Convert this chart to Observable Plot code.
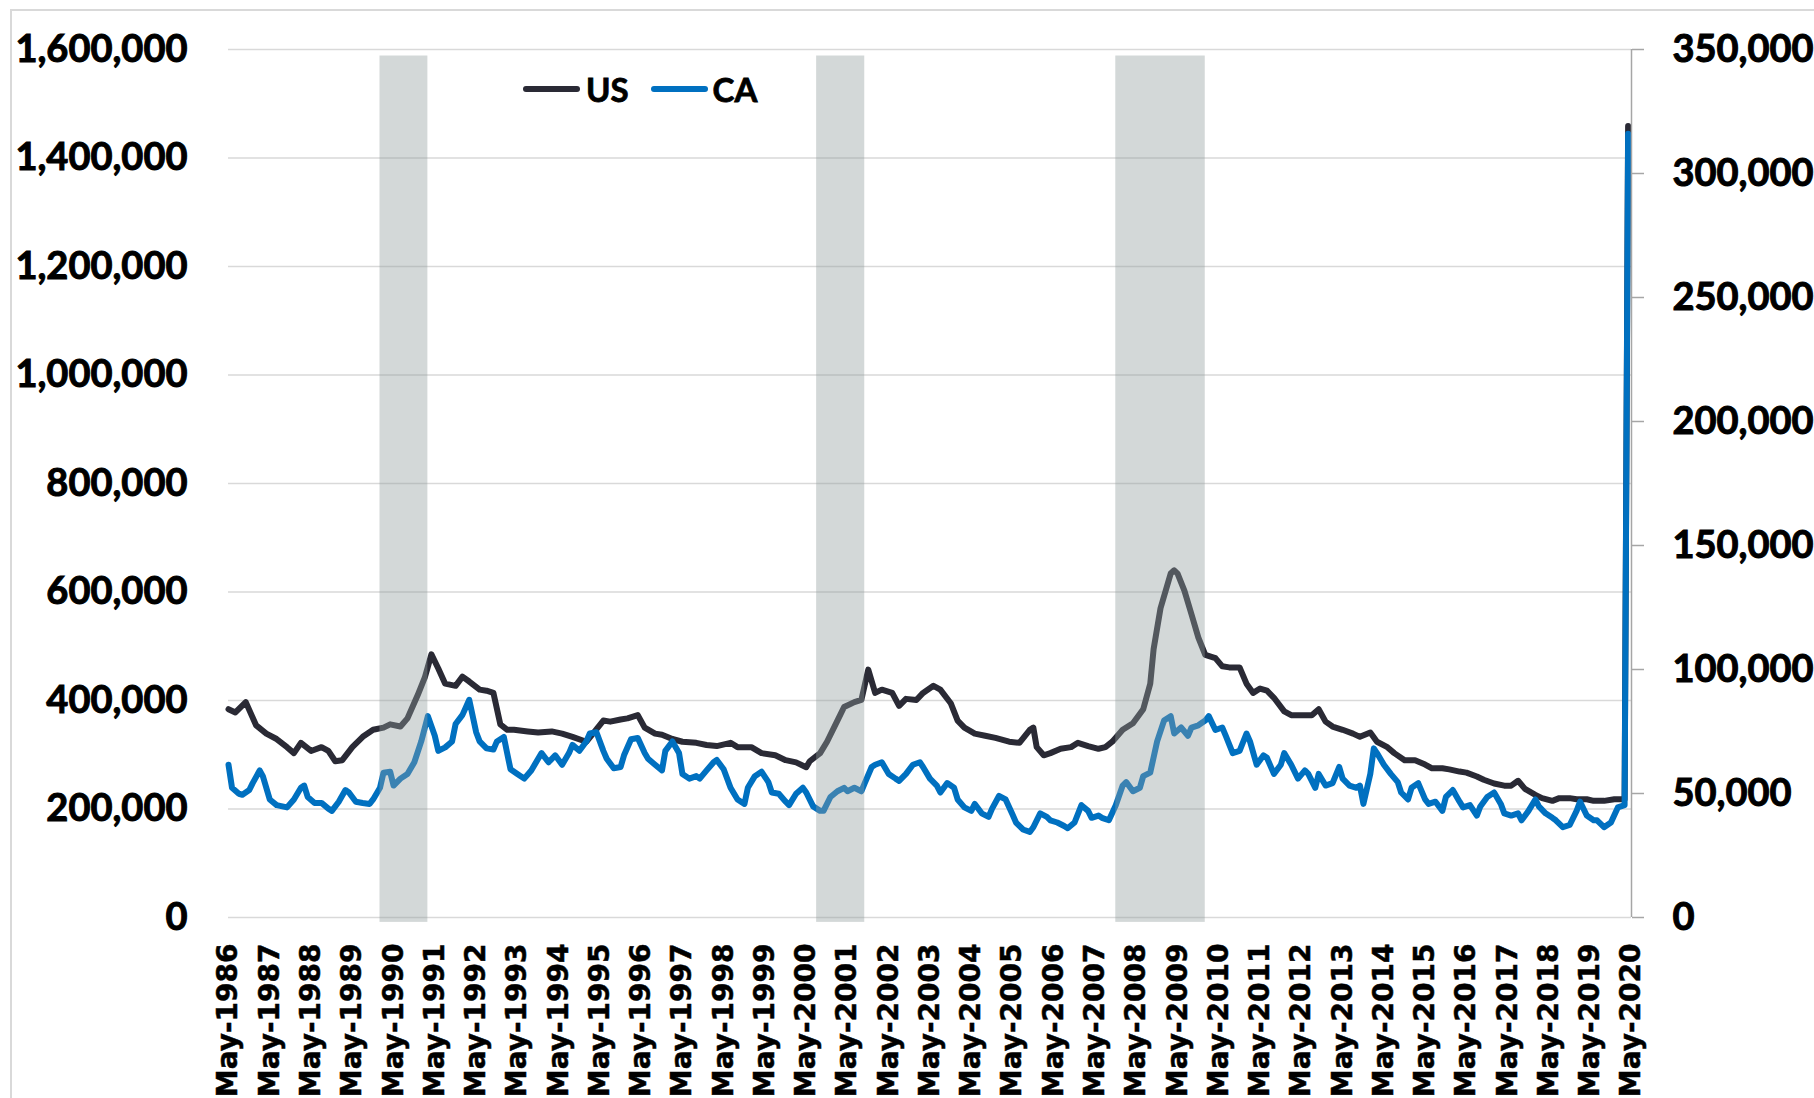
<!DOCTYPE html>
<html><head><meta charset="utf-8">
<script src="https://cdn.jsdelivr.net/npm/d3@7"></script>
<script src="https://cdn.jsdelivr.net/npm/@observablehq/plot@0.6"></script>
<style>
body{margin:0;background:#fff;}
#wrap{position:relative;width:1814px;height:1098px;overflow:hidden;}
#frame{position:absolute;left:10px;top:9px;right:0;bottom:0;border-top:2px solid #d9d9d9;border-left:2px solid #d9d9d9;}
#chart{position:absolute;left:0;top:0;}
#chart svg g[aria-label="y-axis tick label"] text{stroke:#000;stroke-width:1px;paint-order:stroke;}
#chart svg g[aria-label="x-axis tick label"] text{stroke:#000;stroke-width:0.5px;paint-order:stroke;}
#legend{position:absolute;left:523px;top:70px;height:38px;display:flex;align-items:center;font:bold 33px Lato;color:#000;-webkit-text-stroke:0.8px #000;}
#legend .sw{display:inline-block;width:57px;height:6px;border-radius:3px;}
</style></head><body>
<div id="wrap"><div id="frame"></div><div id="chart"></div>
<div id="legend"><span class="sw" style="background:#2a2a35;margin-right:6px"></span><span>US</span><span class="sw" style="background:#0070c0;margin-left:22px;margin-right:5px"></span><span>CA</span></div>
</div>
<script>
const usDates = ["1986-05","1986-07","1986-10","1987-01","1987-04","1987-07","1987-10","1987-12","1988-02","1988-05","1988-08","1988-10","1988-12","1989-02","1989-05","1989-08","1989-11","1990-02","1990-04","1990-07","1990-09","1990-12","1991-02","1991-04","1991-06","1991-08","1991-11","1992-01","1992-03","1992-06","1992-08","1992-10","1992-12","1993-02","1993-04","1993-08","1993-11","1994-03","1994-06","1994-09","1995-01","1995-03","1995-06","1995-08","1995-11","1996-01","1996-04","1996-06","1996-09","1996-11","1997-02","1997-05","1997-09","1997-12","1998-03","1998-07","1998-09","1999-01","1999-04","1999-08","1999-11","2000-02","2000-05","2000-06","2000-09","2000-11","2001-02","2001-04","2001-07","2001-09","2001-11","2002-01","2002-03","2002-06","2002-08","2002-10","2003-01","2003-03","2003-06","2003-08","2003-11","2004-01","2004-03","2004-06","2004-09","2004-12","2005-04","2005-07","2005-10","2005-11","2005-12","2006-02","2006-04","2006-07","2006-10","2006-12","2007-03","2007-06","2007-08","2007-10","2008-01","2008-04","2008-07","2008-09","2008-10","2008-12","2009-03","2009-04","2009-05","2009-07","2009-09","2009-11","2010-01","2010-04","2010-06","2010-08","2010-11","2011-01","2011-03","2011-05","2011-07","2011-09","2011-12","2012-02","2012-05","2012-08","2012-10","2012-12","2013-02","2013-05","2013-08","2013-10","2014-01","2014-03","2014-06","2014-08","2014-11","2015-02","2015-05","2015-07","2015-10","2015-12","2016-03","2016-05","2016-08","2016-10","2017-01","2017-04","2017-06","2017-08","2017-10","2018-01","2018-03","2018-06","2018-08","2018-11","2019-01","2019-04","2019-06","2019-09","2019-12","2020-03","2020-04"];
const usValues = [384000,378000,397000,354000,339000,329000,314000,303000,322000,307000,314000,307000,288000,290000,314000,333000,346000,350000,356000,352000,367000,410000,442000,485000,459000,431000,427000,444000,435000,420000,418000,414000,356000,346000,346000,343000,341000,343000,339000,333000,324000,339000,363000,361000,365000,367000,373000,350000,339000,337000,329000,324000,322000,318000,316000,322000,314000,314000,303000,299000,290000,286000,277000,288000,303000,324000,363000,388000,397000,401000,457000,414000,420000,414000,390000,403000,401000,414000,427000,420000,395000,363000,350000,339000,335000,331000,324000,322000,346000,350000,314000,299000,303000,311000,314000,322000,316000,311000,314000,324000,346000,358000,384000,431000,495000,570000,634000,640000,634000,602000,559000,516000,484000,478000,463000,461000,461000,431000,414000,422000,418000,405000,380000,373000,373000,373000,384000,361000,352000,346000,339000,333000,341000,324000,314000,303000,290000,290000,282000,275000,275000,273000,269000,267000,260000,254000,247000,243000,243000,252000,237000,226000,220000,215000,220000,220000,218000,218000,215000,215000,218000,218000,1459000];

const caDates = ["1986-05","1986-06","1986-08","1986-09","1986-11","1986-12","1987-02","1987-03","1987-05","1987-07","1987-10","1987-12","1988-02","1988-03","1988-04","1988-06","1988-08","1988-10","1988-11","1989-01","1989-03","1989-04","1989-06","1989-08","1989-10","1989-11","1990-01","1990-02","1990-04","1990-05","1990-07","1990-09","1990-11","1991-01","1991-03","1991-05","1991-06","1991-08","1991-10","1991-11","1992-01","1992-03","1992-05","1992-06","1992-08","1992-10","1992-11","1993-01","1993-03","1993-05","1993-07","1993-09","1993-11","1993-12","1994-02","1994-04","1994-06","1994-08","1994-09","1994-11","1995-01","1995-02","1995-04","1995-06","1995-07","1995-09","1995-11","1995-12","1996-02","1996-04","1996-06","1996-07","1996-09","1996-11","1996-12","1997-02","1997-04","1997-05","1997-07","1997-09","1997-10","1997-12","1998-02","1998-03","1998-05","1998-07","1998-09","1998-11","1998-12","1999-02","1999-04","1999-06","1999-07","1999-09","1999-11","1999-12","2000-02","2000-04","2000-05","2000-07","2000-09","2000-10","2000-12","2001-02","2001-04","2001-05","2001-07","2001-09","2001-10","2001-12","2002-01","2002-03","2002-05","2002-07","2002-08","2002-10","2002-12","2003-02","2003-03","2003-05","2003-07","2003-08","2003-10","2003-12","2004-01","2004-03","2004-05","2004-06","2004-08","2004-10","2004-11","2005-01","2005-03","2005-05","2005-06","2005-08","2005-10","2005-11","2006-01","2006-03","2006-04","2006-06","2006-08","2006-09","2006-11","2007-01","2007-03","2007-04","2007-06","2007-07","2007-09","2007-11","2008-01","2008-02","2008-04","2008-06","2008-07","2008-09","2008-11","2009-01","2009-03","2009-04","2009-06","2009-08","2009-09","2009-11","2010-01","2010-02","2010-04","2010-06","2010-07","2010-09","2010-11","2011-01","2011-02","2011-04","2011-06","2011-07","2011-09","2011-11","2011-12","2012-02","2012-04","2012-06","2012-07","2012-09","2012-10","2012-12","2013-02","2013-04","2013-05","2013-07","2013-09","2013-10","2013-11","2014-01","2014-02","2014-03","2014-05","2014-07","2014-09","2014-10","2014-12","2015-01","2015-03","2015-05","2015-06","2015-08","2015-10","2015-11","2016-01","2016-03","2016-04","2016-06","2016-08","2016-09","2016-11","2017-01","2017-03","2017-04","2017-06","2017-08","2017-09","2017-11","2018-01","2018-02","2018-04","2018-06","2018-07","2018-09","2018-11","2019-01","2019-02","2019-04","2019-06","2019-07","2019-09","2019-11","2020-01","2020-03","2020-04"];
const caValues = [61600,52300,49900,49500,51400,54200,59300,57000,47600,45300,44400,47600,52300,53200,48600,46200,46200,43900,43000,46700,51400,50400,46700,46200,45800,47600,52300,58400,58800,53200,56000,57900,62600,71000,81200,73300,67200,68600,71000,78000,81700,87800,74700,71000,68200,67700,71000,72800,59800,57900,56000,59300,64000,66300,62600,65400,61600,66300,69600,67200,71000,74200,74700,67200,64000,60200,60700,65400,71900,72400,66300,64000,61600,59300,67200,71000,66300,57900,56000,57000,56000,59300,62600,63500,59800,52300,47600,45800,52300,57000,58800,54600,50400,49900,46700,45300,49900,52300,50400,44800,43000,43000,48600,50900,52300,50900,52300,50900,54200,60700,61600,62600,57900,56000,55100,57900,61600,62600,60700,56000,53200,50400,54200,52300,47600,44400,43000,45800,42000,40600,43900,49000,47600,41500,38300,35500,34500,36400,42000,40600,39200,38300,36900,36000,38300,45300,43000,40200,41100,40200,39200,45300,53200,54600,50900,52300,57000,58400,71000,79400,81200,74200,76600,73300,76600,77500,79400,81200,75600,76600,73300,66300,67200,74200,71000,61600,65400,64400,57900,61600,66300,61600,56000,59300,57900,52300,57900,53200,54200,60700,56000,53200,52300,53200,45800,57900,68200,66300,61600,57900,54600,50400,47600,52300,54200,47600,45800,46700,43000,48600,51400,46700,44400,45300,41100,44800,48600,50400,45800,42000,41100,42000,39200,43000,47600,44800,42000,40200,39200,36400,37300,43000,46700,41100,39200,39200,36400,38300,44400,45300,316000];

const recessionStart = ["1990-01","2000-08","2007-11"];
const recessionEnd = ["1991-03","2001-10","2010-01"];

const leftTicks = [0,200000,400000,600000,800000,1000000,1200000,1400000,1600000];
const rightTicks = [0,50000,100000,150000,200000,250000,300000,350000];
const tickYears = [1986,1987,1988,1989,1990,1991,1992,1993,1994,1995,1996,1997,1998,1999,2000,2001,2002,2003,2004,2005,2006,2007,2008,2009,2010,2011,2012,2013,2014,2015,2016,2017,2018,2019,2020];

const parse = d3.utcParse("%Y-%m");
const ratio = 1600000 / 350000;
const us = usDates.map((d, i) => ({date: parse(d), value: usValues[i]}));
const ca = caDates.map((d, i) => ({date: parse(d), value: caValues[i] * ratio}));
const rec = recessionStart.map((d, i) => ({start: parse(d), end: parse(recessionEnd[i])}));
const tickDates = tickYears.map(y => parse(y + "-05"));
const fmt = d3.format(",");

const chart = Plot.plot({
  width: 1814, height: 1098,
  marginLeft: 228, marginRight: 183, marginTop: 49, marginBottom: 181,
  x: {type: "utc", domain: [parse("1986-05"), parse("2020-05")]},
  y: {domain: [0, 1600000]},
  style: {fontFamily: "Lato", fontWeight: "bold", color: "#000", background: "transparent", overflow: "visible"},
  marks: [
    Plot.gridY(leftTicks, {stroke: "#d9d9d9", strokeOpacity: 1, strokeWidth: 1.6}),
    Plot.axisY(leftTicks, {anchor: "left", tickSize: 0, tickPadding: 41, tickFormat: fmt, fontSize: 38, label: null}),
    Plot.line(us, {x: "date", y: "value", stroke: "#2a2a35", strokeWidth: 6, strokeLinejoin: "round", strokeLinecap: "round"}),
    Plot.line(ca, {x: "date", y: "value", stroke: "#0070c0", strokeWidth: 6, strokeLinejoin: "round", strokeLinecap: "round"}),
    Plot.rect(rec, {x1: "start", x2: "end", y1: -9000, y2: 1588000, fill: "#919d9d", fillOpacity: 0.4}),
    Plot.ruleX([parse("2020-05")], {y1: 0, y2: 1600000, stroke: "#a6a6a6", strokeWidth: 1.5}),
    Plot.axisY(rightTicks.map(v => v * ratio), {anchor: "right", tickSize: 12, tickPadding: 29, stroke: "#a6a6a6", strokeWidth: 1.5, tickFormat: v => fmt(Math.round(v / ratio)), fontSize: 38, label: null}),
    Plot.axisX(tickDates, {anchor: "bottom", tickSize: 0, tickPadding: 26, tickRotate: -90, tickFormat: d => "May-" + d.getUTCFullYear(), fontSize: 28, fontFamily: "DejaVu Sans", fontWeight: "bold", label: null})
  ]
});
document.getElementById("chart").appendChild(chart);
</script>
</body></html>
